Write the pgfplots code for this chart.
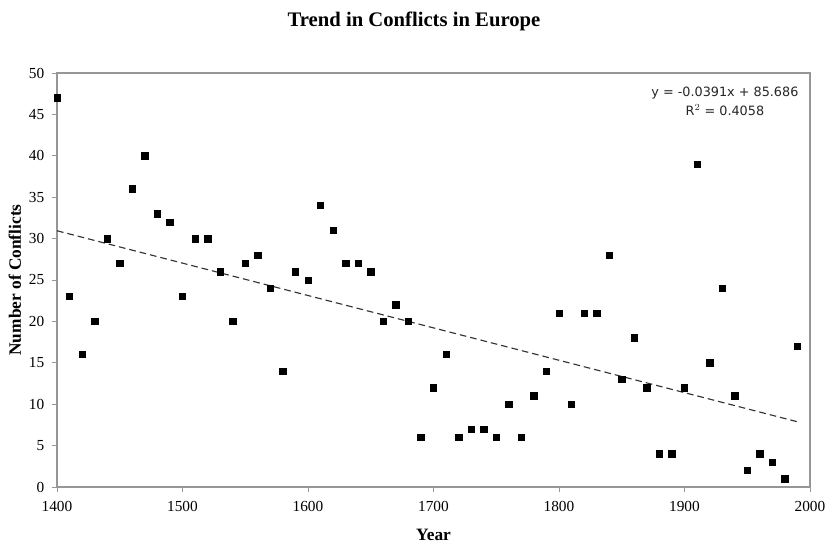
\documentclass[border=0pt]{standalone}
\usepackage{pgfplots}
\pgfplotsset{compat=1.18}
\usepackage{fontspec}
\setmainfont{Liberation Serif}
\newfontfamily\eqfont{DejaVu Sans}
\definecolor{frame}{RGB}{150,150,150}

\pgfplotstableread{
year conflicts
1400 47
1410 23
1420 16
1430 20
1440 30
1450 27
1460 36
1470 40
1480 33
1490 32
1500 23
1510 30
1520 30
1530 26
1540 20
1550 27
1560 28
1570 24
1580 14
1590 26
1600 25
1610 34
1620 31
1630 27
1640 27
1650 26
1660 20
1670 22
1680 20
1690 6
1700 12
1710 16
1720 6
1730 7
1740 7
1750 6
1760 10
1770 6
1780 11
1790 14
1800 21
1810 10
1820 21
1830 21
1840 28
1850 13
1860 18
1870 12
1880 4
1890 4
1900 12
1910 39
1920 15
1930 24
1940 11
1950 2
1960 4
1970 3
1980 1
1990 17
}\conflicts

\begin{document}
\begin{tikzpicture}
\begin{axis}[
  at={(0,0)}, anchor=south west,
  scale only axis,
  width=564.75pt, height=310.5pt,
  xmin=1400, xmax=2000, ymin=0, ymax=50,
  xtick={1400,1500,...,2000},
  ytick={0,5,...,50},
  axis line style={frame, line width=0.9pt},
  tick style={frame, line width=0.7pt},
  tick align=outside,
  major tick length=4pt,
  xtick pos=bottom, ytick pos=left,
  /pgf/number format/1000 sep={},
  /pgf/number format/assume math mode=true,
  tick label style={font=\fontsize{11.5}{13}\selectfont, black},
  xticklabel style={yshift=-3pt},
  yticklabel style={xshift=-2pt},
  clip=false,
]
\addplot[only marks, mark=square*, mark size=2.4pt, black] table[x=year, y=conflicts] {\conflicts};
% linear trend: y = -0.0391x + 85.686
\addplot[black!80, line width=0.85pt, dash pattern=on 5pt off 3pt] coordinates {(1400,30.946) (1990,7.877)};
\node[font=\eqfont\fontsize{9.6}{14.5}\selectfont, align=center, text=black!85]
  at (rel axis cs:0.887,0.932) {y = -0.0391x + 85.686\\R$^{2}$ = 0.4058};
\end{axis}
% title and axis labels
\node[font=\bfseries\fontsize{15.5}{18}\selectfont] at (267.75pt,349pt) {Trend in Conflicts in Europe};
\node[font=\bfseries\fontsize{13}{15}\selectfont] at (282.4pt,-36pt) {Year};
\node[font=\bfseries\fontsize{13}{15}\selectfont, rotate=90] at (-31.5pt,155.25pt) {Number of Conflicts};
\pgfresetboundingbox
\path (-42.75pt,-45.75pt) rectangle (579pt,365.25pt);
\end{tikzpicture}
\end{document}
